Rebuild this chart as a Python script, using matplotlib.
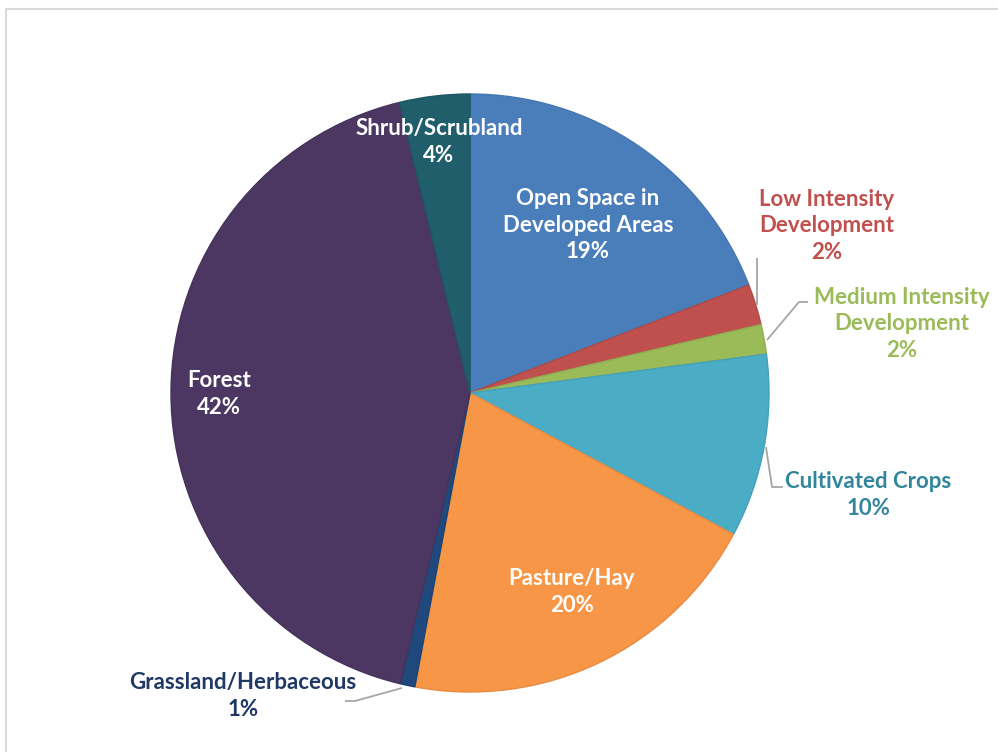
import matplotlib.pyplot as plt
from matplotlib.patches import Rectangle

# land cover shares (percent), clockwise from 12 o'clock
categories = ["Open Space in\nDeveloped Areas", "Low Intensity\nDevelopment", "Medium Intensity\nDevelopment",
              "Cultivated Crops", "Pasture/Hay", "Grassland/Herbaceous", "Forest", "Shrub/Scrubland"]
values = [19.1, 2.2, 1.6, 9.9, 20.1, 0.8, 42.4, 3.8]
colors = ["#4A7EBB", "#C0504D", "#9BBB59", "#4BACC6", "#F79646", "#1F497D", "#4B3762", "#215E6C"]
edge_colors = ["#4475B0", "#B04A47", "#8FAD52", "#45A0B9", "#E88B42", "#1C4374", "#45325A", "#1E5663"]

W, H = 998, 752
fig = plt.figure(figsize=(W / 100, H / 100), dpi=100)
ax = fig.add_axes([0, 0, 1, 1])

cx, cy, r = 470, H - 393, 299
wedges, _ = ax.pie(values, colors=colors, startangle=90, counterclock=False,
                   center=(cx, cy), radius=r, frame=True)
for w, ec in zip(wedges, edge_colors):
    w.set_edgecolor(ec)
    w.set_linewidth(1.0)
ax.set_xlim(0, W)
ax.set_ylim(0, H)
ax.set_aspect("equal")
ax.axis("off")

font = dict(family=["Lato", "DejaVu Sans"], weight="bold", fontsize=16)

# (label x, label y in image px, text colour)
label_pos = [(588, 225, "white"), (827, 226, "#C0504D"), (902, 324, "#9BBB59"),
             (868, 495, "#31859C"), (572, 592, "white"), (243, 696, "#1F3864"),
             (219, 394, "white"), (439, 142, "white")]
for cat, v, (lx, ly, c) in zip(categories, values, label_pos):
    ax.text(lx, H - ly, f"{cat}\n{round(v)}%", ha="center", va="center",
            color=c, linespacing=1.3, **font)

# leader lines
leaders = [
    [(757, 305), (757, 258)],
    [(767, 340), (799, 302), (808, 302)],
    [(766, 447), (772, 487), (783, 487)],
    [(402, 688), (355, 701), (345, 701)],
]
for pts in leaders:
    xs = [p[0] for p in pts]
    ys = [H - p[1] for p in pts]
    ax.plot(xs, ys, color="#A6A6A6", lw=1.3, solid_capstyle="butt")

# chart frame
fig.patches.append(Rectangle((6 / W, -0.05), 1.1, (H - 9) / H + 0.05, transform=fig.transFigure,
                             fill=False, edgecolor="#D9D9D9", lw=1.5))

fig.savefig("out.png", dpi=100)
